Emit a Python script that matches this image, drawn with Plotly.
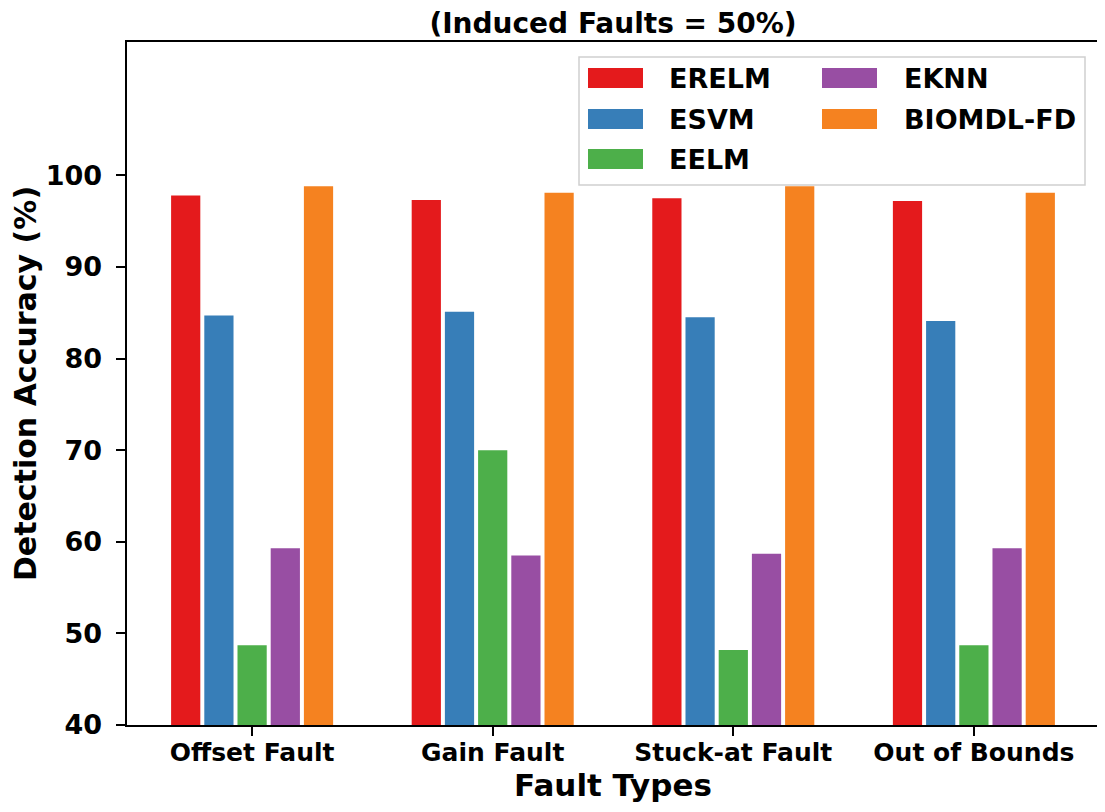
import plotly.graph_objects as go

categories = ["Offset Fault", "Gain Fault", "Stuck-at Fault", "Out of Bounds"]
series_names = ["ERELM", "ESVM", "EELM", "EKNN", "BIOMDL-FD"]
erelm = [97.8, 97.3, 97.5, 97.2]
esvm = [84.7, 85.1, 84.5, 84.1]
eelm = [48.7, 70.0, 48.2, 48.7]
eknn = [59.3, 58.5, 58.7, 59.3]
biomdl = [98.8, 98.1, 98.8, 98.1]
series_values = [erelm, esvm, eelm, eknn, biomdl]
colors = ["#e41a1c", "#377eb8", "#4daf4a", "#984ea3", "#f58220"]
y_ticks = [40, 50, 60, 70, 80, 90, 100]

# page body has an 8px margin, so the figure is drawn shifted by OFF
OFF = 8
W, H = 1105 - OFF, 812 - OFF
# desired plot area in screen pixels: x 127..1099, y 42..725
L, T = 127 - OFF, 42 - OFF
R = W - (1099 - OFF)
B = H - (725 - OFF)
PW, PH = W - L - R, H - T - B

FONT = "DejaVu Sans"
NB = "\u00a0"

fig = go.Figure()
for name, vals, col in zip(series_names, series_values, colors):
    fig.add_trace(go.Bar(
        x=categories, y=vals, name=name,
        marker=dict(color=col, line=dict(width=0)),
        showlegend=False,
    ))

def px_x(p):
    return (p - OFF - L) / PW

def px_y(p):
    return (T + PH - (p - OFF)) / PH

shapes = []
annotations = []
# legend box
shapes.append(dict(type="rect", xref="paper", yref="paper",
                   x0=px_x(579), x1=px_x(1085), y0=px_y(185), y1=px_y(57),
                   fillcolor="rgba(255,255,255,0.85)",
                   line=dict(color="#d0d0d0", width=1.5), layer="above"))
col_patch_x = [588, 822]
col_text_x = [667, 902]
row_y = [78, 119, 159]
layout_pos = [(0, 0), (0, 1), (0, 2), (1, 0), (1, 1)]
for (c, r), name, col in zip(layout_pos, series_names, colors):
    yc = row_y[r]
    shapes.append(dict(type="rect", xref="paper", yref="paper",
                       x0=px_x(col_patch_x[c]), x1=px_x(col_patch_x[c] + 55),
                       y0=px_y(yc + 10), y1=px_y(yc - 10),
                       fillcolor=col, line=dict(width=0), layer="above"))
    annotations.append(dict(xref="paper", yref="paper",
                            x=px_x(col_text_x[c]), y=px_y(yc),
                            text="<b>%s</b>" % name, showarrow=False,
                            xanchor="left", yanchor="middle",
                            font=dict(family=FONT, size=27, color="black")))

fig.update_layout(
    width=W, height=H,
    margin=dict(l=L, r=R, t=T, b=B),
    paper_bgcolor="white", plot_bgcolor="white",
    barmode="group", bargap=0.31, bargroupgap=0.12,
    title=dict(text="<b>(Induced Faults = 50%)</b>", x=(L + PW / 2) / W,
               xanchor="center", y=1 - (23 - OFF) / H, yanchor="middle",
               font=dict(family=FONT, size=28, color="black")),
    shapes=shapes, annotations=annotations,
    font=dict(family=FONT, color="black"),
)
fig.update_xaxes(
    range=[-0.52, 3.52], automargin=False,
    showline=True, linecolor="black", linewidth=2, mirror=True,
    ticks="outside", ticklen=9, tickwidth=2, tickcolor="black",
    tickfont=dict(family=FONT, size=25, color="black"),
    tickprefix="<b>", ticksuffix="</b>",
    ticklabelstandoff=-5,
    title=dict(text="<b>Fault Types</b>", standoff=8,
               font=dict(family=FONT, size=31, color="black")),
    showgrid=False,
)
fig.update_yaxes(
    range=[40, 114.56], automargin=False,
    tickvals=y_ticks, ticktext=["<b>%d</b>%s" % (v, NB) for v in y_ticks],
    showline=True, linecolor="black", linewidth=2, mirror=True,
    ticks="outside", ticklen=9, tickwidth=2, tickcolor="black",
    tickfont=dict(family=FONT, size=27, color="black"),
    title=dict(text="<b>Detection Accuracy (%)</b>", standoff=15,
               font=dict(family=FONT, size=30, color="black")),
    showgrid=False, zeroline=False,
)

fig.write_html("out.html")
